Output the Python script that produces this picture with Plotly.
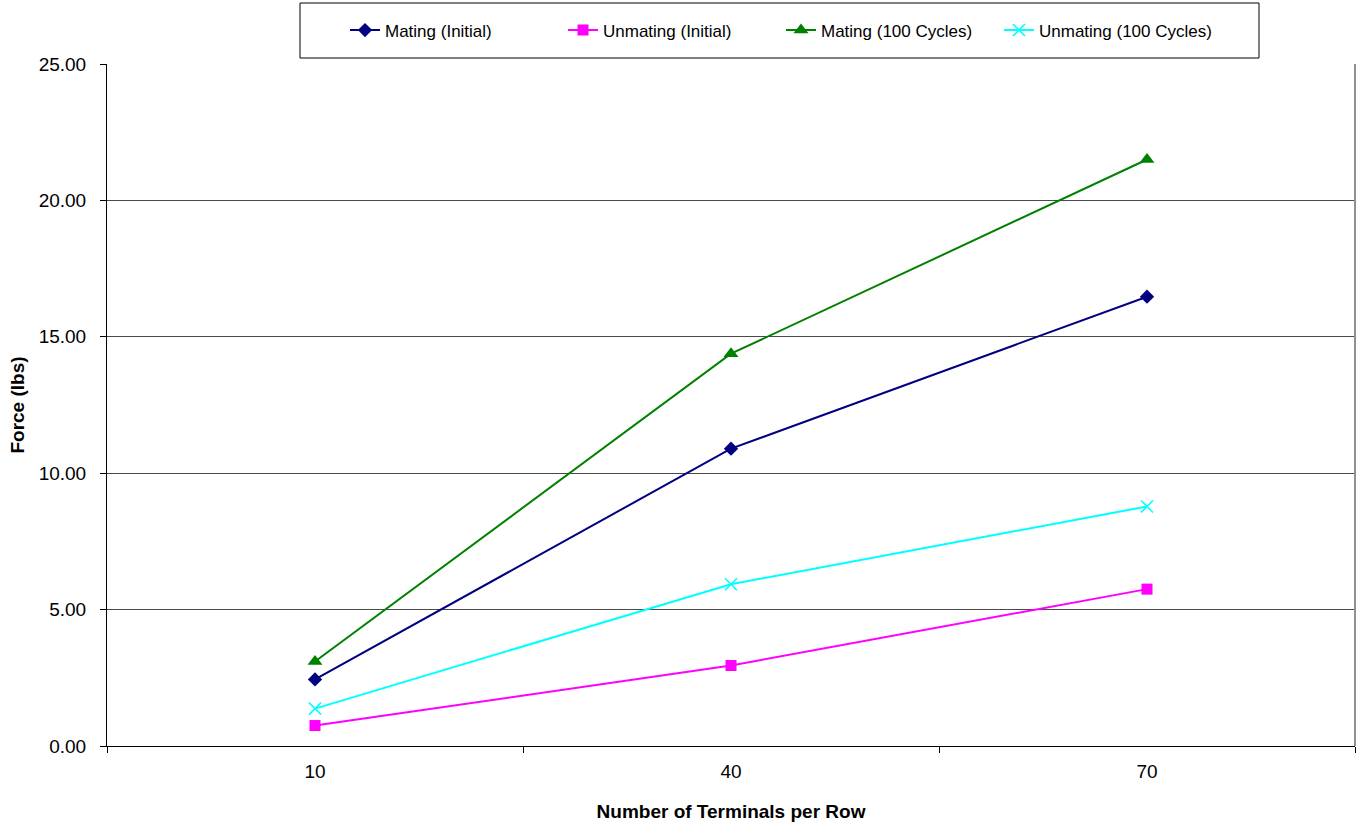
import plotly.graph_objects as go

categories = ["10", "40", "70"]
series_names = ["Mating (Initial)", "Unmating (Initial)", "Mating (100 Cycles)", "Unmating (100 Cycles)"]
mating_initial = [2.44, 10.90, 16.47]
unmating_initial = [0.75, 2.95, 5.75]
mating_100 = [3.10, 14.38, 21.50]
unmating_100 = [1.37, 5.93, 8.78]
y_ticks = [0, 5, 10, 15, 20, 25]
y_tick_labels = ["0.00", "5.00", "10.00", "15.00", "20.00", "25.00"]

FONT = "Arial, Liberation Sans, sans-serif"

fig = go.Figure()

styles = [
    dict(color="#000080", symbol="diamond", size=11, lw=0),
    dict(color="#FF00FF", symbol="square", size=11, lw=0),
    dict(color="#008000", symbol="triangle-up", size=13, lw=0),
    dict(color="#00FFFF", symbol="x-thin", size=12, lw=1.6),
]
values = [mating_initial, unmating_initial, mating_100, unmating_100]

for name, vals, st in zip(series_names, values, styles):
    marker = dict(color=st["color"], symbol=st["symbol"], size=st["size"])
    if st["lw"]:
        marker["line"] = dict(color=st["color"], width=st["lw"])
    fig.add_trace(go.Scatter(
        x=categories, y=vals, name=name, mode="lines+markers",
        line=dict(color=st["color"], width=2),
        marker=marker,
        cliponaxis=False,
    ))

# legend frame and plot-area right border
fig.add_shape(type="rect", xref="paper", yref="paper",
              x0=(300 - 107) / 1248, x1=(1259 - 107) / 1248,
              y0=(746 - 58) / 682, y1=(746 - 3) / 682,
              line=dict(color="black", width=1), fillcolor="white", layer="below")
fig.add_shape(type="line", xref="paper", yref="paper",
              x0=1, x1=1, y0=0, y1=1,
              line=dict(color="#909090", width=2))

fig.update_layout(
    width=1359, height=826,
    margin=dict(l=107, r=4, t=64, b=80),
    paper_bgcolor="white", plot_bgcolor="white",
    font=dict(family=FONT, size=19, color="black"),
    showlegend=True,
    legend=dict(
        orientation="h",
        x=(781 - 107) / 1248, xanchor="center",
        y=(746 - 30.5) / 682, yanchor="middle",
        font=dict(family=FONT, size=17, color="black"),
        bgcolor="rgba(0,0,0,0)",
        borderwidth=0,
        entrywidth=173, entrywidthmode="pixels",
    ),
    xaxis=dict(
        type="category",
        range=[-0.5, 2.5],
        tickson="boundaries",
        ticks="outside", ticklen=6, tickcolor="black", tickwidth=1,
        showline=True, linecolor="black", linewidth=1,
        showgrid=False, zeroline=False,
        ticklabelstandoff=8,
        tickfont=dict(family=FONT, size=19),
        title=dict(text="<b>Number of Terminals per Row</b>",
                   font=dict(family=FONT, size=19), standoff=23),
    ),
    yaxis=dict(
        range=[0, 25],
        tickmode="array", tickvals=y_ticks, ticktext=y_tick_labels,
        ticks="outside", ticklen=6, tickcolor="black", tickwidth=1,
        showline=True, linecolor="black", linewidth=1,
        showgrid=True, gridcolor="#4a4a4a", gridwidth=1,
        zeroline=False,
        ticklabelstandoff=10,
        tickfont=dict(family=FONT, size=19),
        title=dict(text="<b>Force (lbs)</b>",
                   font=dict(family=FONT, size=19), standoff=9),
    ),
)

fig.write_html(
    "out.html",
    config={"displayModeBar": False},
    post_script="document.body.style.margin='0';document.body.style.overflow='hidden';",
)
